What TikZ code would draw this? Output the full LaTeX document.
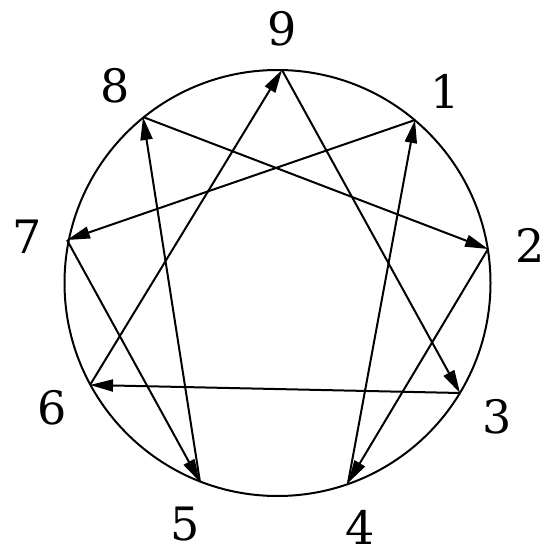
\documentclass[tikz,border=0pt]{standalone}
\usepackage{fontspec}
\setmainfont{DejaVu Serif}
\usetikzlibrary{arrows.meta}
\begin{document}
\begin{tikzpicture}[x=1pt,y=-1pt,
  ring/.style={line width=2pt},
  edge/.style={line width=2pt,-{Triangle[length=23pt,width=12pt]}},
  num/.style={inner sep=0pt,font=\fontsize{46}{46}\selectfont}]
\useasboundingbox (0,0) rectangle (556,556);
\coordinate (c) at (277.5,283);
\draw[ring] (c) circle[radius=213];
\coordinate (p9) at (282,70);
\coordinate (p1) at (415,120);
\coordinate (p2) at (488,249);
\coordinate (p3) at (460,393);
\coordinate (p4) at (348,483);
\coordinate (p5) at (200,482);
\coordinate (p6) at (90,385);
\coordinate (p7) at (67,240);
\coordinate (p8) at (143,117);
\node[num] (l9) at (282,29) {9};
\node[num] (l1) at (445,91) {1};
\node[num] (l2) at (530,245) {2};
\node[num] (l3) at (497,417) {3};
\node[num] (l4) at (360,527) {4};
\node[num] (l5) at (185,524) {5};
\node[num] (l6) at (52,408) {6};
\node[num] (l7) at (27,237) {7};
\node[num] (l8) at (115,86) {8};
\draw[edge] (p1) -- (p7);
\draw[edge] (p7) -- (p5);
\draw[edge] (p5) -- (p8);
\draw[edge] (p8) -- (p2);
\draw[edge] (p2) -- (p4);
\draw[edge] (p4) -- (p1);
\draw[edge] (p9) -- (p3);
\draw[edge] (p3) -- (p6);
\draw[edge] (p6) -- (p9);
\end{tikzpicture}
\end{document}
